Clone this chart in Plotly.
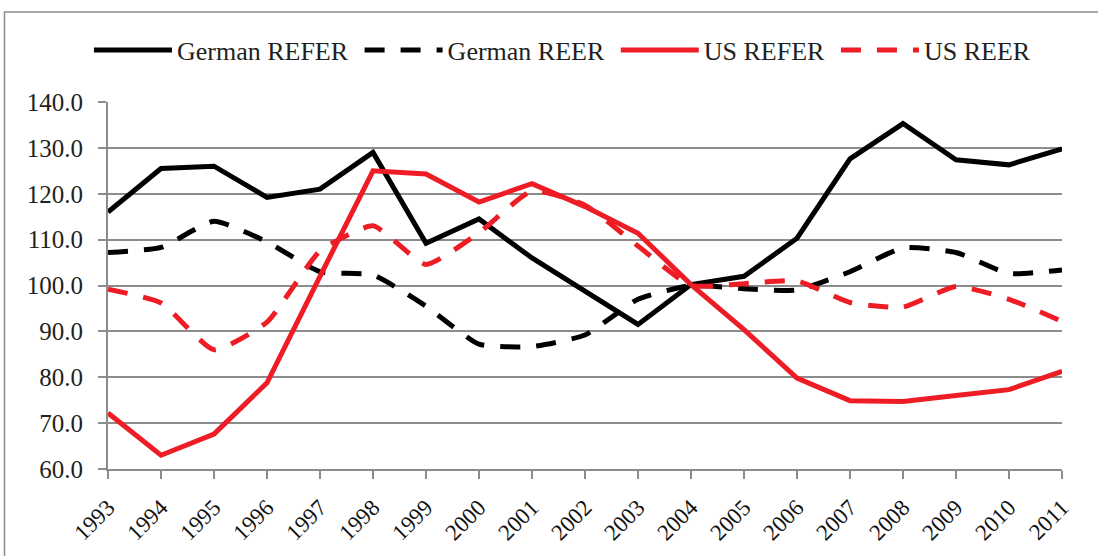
import plotly.graph_objects as go

years = list(range(1993, 2012))
german_refer = [116.0, 125.5, 126.0, 119.2, 121.0, 129.0, 109.2, 114.5, 106.0, 98.8, 91.5, 100.2, 102.0, 110.3, 127.6, 135.3, 127.4, 126.3, 129.8]
german_reer = [107.2, 108.3, 114.0, 109.5, 103.0, 102.3, 95.5, 87.2, 86.7, 89.2, 97.0, 100.0, 99.3, 99.0, 103.0, 108.2, 107.2, 102.6, 103.4]
us_refer = [72.2, 63.0, 67.6, 78.8, 102.0, 125.0, 124.3, 118.2, 122.2, 117.2, 111.4, 100.2, 90.4, 79.8, 74.9, 74.7, 76.0, 77.3, 81.3]
us_reer = [99.2, 96.2, 86.0, 92.0, 107.5, 113.0, 104.6, 111.5, 120.6, 117.5, 108.6, 100.0, 100.4, 101.0, 96.3, 95.3, 99.8, 97.0, 92.2]
y_ticks = [60, 70, 80, 90, 100, 110, 120, 130, 140]
series_names = ["German REFER", "German REER", "US REFER", "US REER"]

RED = "#EE1C25"
FONT = "Times New Roman, Liberation Serif, serif"
GRID = "#8c8c8c"
TXT = "#231F20"
PAD = "\u00a0"

fig = go.Figure()
styles = [
    ("black", "solid", "linear"),
    ("black", "20px,16px", "spline"),
    (RED, "solid", "linear"),
    (RED, "20px,16px", "spline"),
]
for name, vals, (col, dash, shape) in zip(series_names, [german_refer, german_reer, us_refer, us_reer], styles):
    fig.add_trace(go.Scatter(
        x=years, y=vals, name=name + PAD, mode="lines",
        line=dict(color=col, width=5, dash=dash, shape=shape, smoothing=0.5),
    ))

W, H = 1098, 556
L, T = 108, 102
PW, PH = 954, 367

fig.update_layout(
    width=W, height=H,
    margin=dict(l=L, r=W - L - PW, t=T, b=H - T - PH),
    paper_bgcolor="white", plot_bgcolor="white",
    font=dict(family=FONT, color=TXT),
    legend=dict(orientation="h", x=0.4795, xanchor="center", y=1 + 52 / PH, yanchor="middle",
                font=dict(size=26, family=FONT, color=TXT), itemwidth=78,
                bgcolor="rgba(0,0,0,0)", traceorder="normal"),
    xaxis=dict(
        range=[1993, 2011], tickmode="array", tickvals=years,
        ticktext=[str(y) for y in years], tickangle=-45,
        tickfont=dict(size=23, family=FONT, color="#111111"),
        ticklabelstandoff=6, automargin=False,
        showgrid=False, showline=True, linecolor=GRID, linewidth=2,
        ticks="outside", ticklen=8, tickcolor=GRID, tickwidth=1.5,
        zeroline=False,
    ),
    yaxis=dict(
        range=[60, 140], tickmode="array", tickvals=y_ticks,
        ticktext=[f"{v:.1f}" for v in y_ticks],
        tickfont=dict(size=25, family=FONT, color=TXT),
        ticklabelstandoff=10, automargin=False,
        showgrid=True, gridcolor=GRID, gridwidth=1.5,
        showline=True, linecolor=GRID, linewidth=2,
        ticks="outside", ticklen=8, tickcolor=GRID, tickwidth=1.5,
        zeroline=False,
    ),
)

# chart frame (outer border as in reference)
fig.add_shape(type="rect", xref="paper", yref="paper",
              x0=(4.5 - L) / PW, x1=(1110 - L) / PW,
              y0=(T + PH - 600) / PH, y1=(T + PH - 12) / PH,
              line=dict(color="#8a8a8a", width=1.5), layer="below")

fig.write_html("out.html", config={"displayModeBar": False},
               post_script="document.body.style.margin='0';document.body.style.overflow='hidden';")
